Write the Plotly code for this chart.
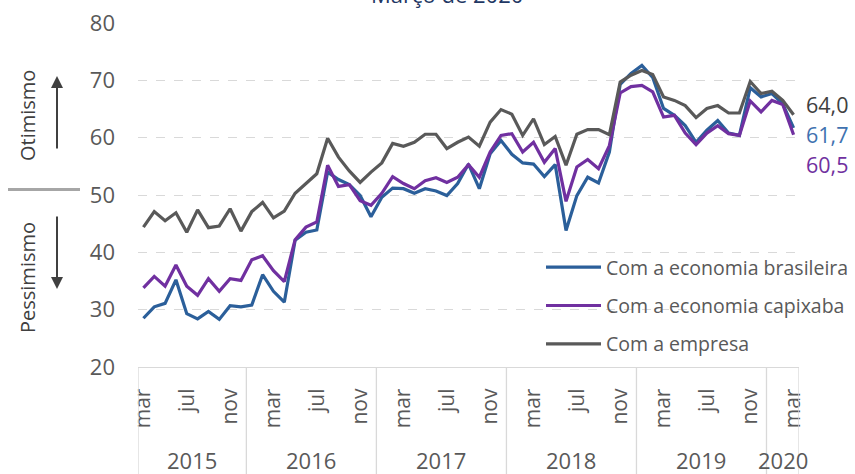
import plotly.graph_objects as go

months_pt = ["jan", "fev", "mar", "abr", "mai", "jun", "jul", "ago", "set", "out", "nov", "dez"]
years = [2015] * 10 + [2016] * 12 + [2017] * 12 + [2018] * 12 + [2019] * 12 + [2020] * 3
months = months_pt[2:] + months_pt * 4 + months_pt[:3]
categories = [f"{m}/{y}" for m, y in zip(months, years)]

brasileira = [28.5, 30.5, 31.1, 35.2, 29.3, 28.4, 29.7, 28.3, 30.7, 30.5, 30.8, 36.1, 33.2, 31.3, 42.1, 43.5, 43.9, 54.0, 52.7, 51.8, 49.9, 46.2,
              49.6, 51.2, 51.1, 50.3, 51.1, 50.7, 49.9, 52.0, 55.4, 51.1, 57.2, 59.5, 57.1, 55.6, 55.4, 53.2, 55.3, 43.8, 49.9, 53.1, 52.1, 57.5,
              69.3, 71.2, 72.6, 70.5, 65.1, 63.9, 62.1, 59.2, 61.3, 63.0, 60.8, 60.4, 68.7, 67.1, 67.7, 65.9, 61.7]
capixaba = [33.8, 35.8, 34.1, 37.8, 34.1, 32.5, 35.4, 33.2, 35.4, 35.1, 38.7, 39.4, 36.8, 34.9, 42.2, 44.4, 45.3, 55.2, 51.5, 51.8, 49.0, 48.2,
            50.3, 53.2, 52.0, 51.1, 52.5, 53.0, 52.2, 53.1, 55.3, 53.1, 57.5, 60.4, 60.7, 57.5, 59.2, 55.7, 58.1, 48.9, 54.9, 56.2, 54.6, 58.6,
            67.8, 68.9, 69.1, 68.0, 63.6, 63.9, 60.8, 58.8, 60.8, 62.1, 60.7, 60.4, 66.4, 64.5, 66.5, 65.8, 60.5]
empresa = [44.4, 47.1, 45.5, 46.9, 43.5, 47.4, 44.3, 44.6, 47.6, 43.7, 47.1, 48.7, 46.0, 47.2, 50.3, 52.0, 53.7, 59.9, 56.6, 54.2, 52.2, 54.0,
           55.6, 59.0, 58.5, 59.2, 60.6, 60.6, 58.1, 59.2, 60.1, 58.5, 62.7, 64.9, 64.1, 60.4, 63.3, 58.8, 60.2, 55.2, 60.6, 61.4, 61.4, 60.5,
           69.7, 70.9, 71.7, 71.0, 67.1, 66.5, 65.6, 63.5, 65.1, 65.6, 64.3, 64.3, 69.8, 67.7, 68.1, 66.5, 64.0]

series_names = ["Com a economia brasileira", "Com a economia capixaba", "Com a empresa"]
series_values = [brasileira, capixaba, empresa]
line_colors = ["#2b5f9a", "#7030a0", "#595959"]
label_colors = ["#3f72b0", "#7030a0", "#404040"]
shown_months = ["mar", "jul", "nov"]
title_text = "Março de 2020"

FONT = "Open Sans"
TXT = "#595959"

fig = go.Figure()
for name, vals, col in zip(series_names, series_values, line_colors):
    fig.add_trace(go.Scatter(x=categories, y=vals, mode="lines", name=name,
                             legendgroup=name,
                             line=dict(color=col, width=3.2)))

tickvals = [c for c, m in zip(categories, months) if m in shown_months]
ticktext = [m for m in months if m in shown_months]

# year groups
year_list = sorted(set(years))
shapes = []
annotations = []
bounds = [-0.5]
for yr in year_list:
    idx = [i for i, y in enumerate(years) if y == yr]
    bounds.append(idx[-1] + 0.5)
    annotations.append(dict(x=(idx[0] + idx[-1]) / 2, y=-0.27, xref="x", yref="paper",
                            text=str(yr), showarrow=False, yanchor="middle", xanchor="center",
                            font=dict(family=FONT, size=22, color=TXT)))
for b in bounds:
    shapes.append(dict(type="line", xref="x", yref="paper", x0=b, x1=b, y0=0, y1=-0.4,
                       line=dict(color="#d9d9d9", width=1.3)))

# end labels
label_y = [60.6, 55.3, 65.8]
for vals, col, ly in zip(series_values, label_colors, label_y):
    annotations.append(dict(x=1.008, y=ly, xref="paper", yref="y", xanchor="left", yanchor="middle",
                            text=f"{vals[-1]:.1f}".replace(".", ","), showarrow=False,
                            font=dict(family=FONT, size=21.5, color=col)))

# left side labels
L = 138
W = 661
H = 344
def px(xp):
    return (xp - L) / W
def py(yp):
    return (367 - yp) / H

annotations.append(dict(x=px(27), y=py(116), xref="paper", yref="paper", text="Otimismo",
                        xanchor="center", yanchor="middle",
                        textangle=-90, showarrow=False, font=dict(family=FONT, size=20, color="#404040")))
annotations.append(dict(x=px(27), y=py(278), xref="paper", yref="paper", text="Pessimismo",
                        xanchor="center", yanchor="middle",
                        textangle=-90, showarrow=False, font=dict(family=FONT, size=20, color="#404040")))
annotations.append(dict(x=px(57), y=py(76), xref="paper", yref="paper", text="", showarrow=True,
                        ax=0, ay=74, arrowhead=2, arrowsize=1.2, arrowwidth=2, arrowcolor="#404040"))
annotations.append(dict(x=px(57), y=py(289), xref="paper", yref="paper", text="", showarrow=True,
                        ax=0, ay=-74, arrowhead=2, arrowsize=1.2, arrowwidth=2, arrowcolor="#404040"))
shapes.append(dict(type="line", xref="paper", yref="paper", x0=px(8), x1=px(80), y0=py(189.5), y1=py(189.5),
                   line=dict(color="#a6a6a6", width=3)))

annotations.append(dict(x=px(447), y=py(11), xref="paper", yref="paper", text=title_text,
                        showarrow=False, yanchor="bottom", xanchor="center",
                        font=dict(family=FONT, size=22, color="#1f3864")))

fig.update_layout(
    width=855, height=474,
    margin=dict(l=138, r=56, t=23, b=107, autoexpand=False),
    paper_bgcolor="white", plot_bgcolor="white",
    font=dict(family=FONT, color=TXT),
    showlegend=True,
    legend=dict(x=px(541), y=py(248), xanchor="left", yanchor="top",
                bgcolor="rgba(0,0,0,0)", font=dict(family=FONT, size=19.5, color=TXT),
                tracegroupgap=10, itemwidth=55, traceorder="grouped"),
    xaxis=dict(type="category", categoryorder="array", categoryarray=categories,
               range=[-0.5, len(categories) - 0.5], automargin=False,
               tickmode="array", tickvals=tickvals, ticktext=ticktext, tickangle=-90,
               tickfont=dict(family=FONT, size=21, color=TXT), ticks="", ticklabelstandoff=12,
               showgrid=False, showline=True, linecolor="#d9d9d9", linewidth=1.3, zeroline=False),
    yaxis=dict(range=[20, 80], dtick=10, showgrid=True, gridcolor="#d9d9d9", griddash="dash",
               gridwidth=1.3, zeroline=False, showline=False, ticks="", automargin=False,
               ticklabelstandoff=22,
               tickfont=dict(family=FONT, size=22, color=TXT)),
    shapes=shapes, annotations=annotations,
)

fig.write_html("out.html")
